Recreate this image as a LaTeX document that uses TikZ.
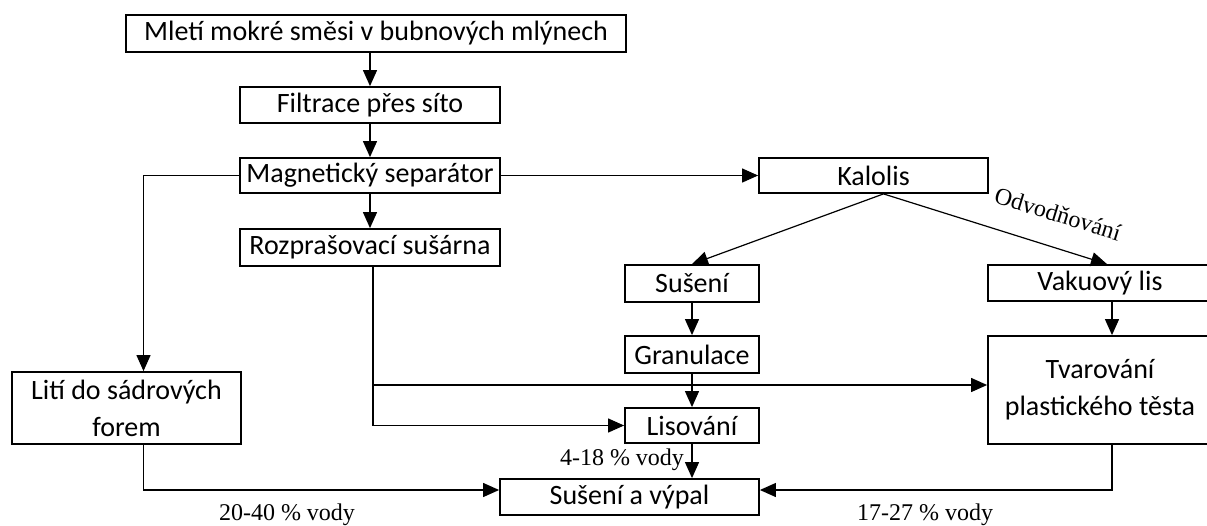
\documentclass[tikz,border=0pt]{standalone}
\usepackage{fontspec}
\setmainfont{Carlito}
\newfontfamily\timesfont{Liberation Serif}
\usepackage{tikz}
\usetikzlibrary{arrows.meta,positioning}

\begin{document}
\begin{tikzpicture}[x=1pt,y=-1pt,
    box/.style={draw,line width=1.8pt,inner sep=0pt,align=center,font=\fontsize{28}{37}\selectfont},
    conn/.style={line width=1.2pt,-{Triangle[length=16pt,width=14pt]}},
    lbl/.style={inner sep=0pt,font=\timesfont\fontsize{24}{26}\selectfont}]
    \useasboundingbox (0,0) rectangle (1207,525);
    \node[box,minimum width=500pt,minimum height=37pt] (mleti) at (376,33.5) {Mletí mokré směsi v bubnových mlýnech};
    \node[box,minimum width=260pt,minimum height=36pt] (filtr) at (370,105) {Filtrace přes síto};
    \node[box,minimum width=260pt,minimum height=35pt] (magnet) at (370,175.5) {Magnetický separátor};
    \node[box,minimum width=260pt,minimum height=37pt] (rozpr) at (370,247.5) {Rozprašovací sušárna};
    \node[box,minimum width=229pt,minimum height=35pt] (kalolis) at (873.5,175.5) {Kalolis};
    \node[box,minimum width=134pt,minimum height=37pt] (suseni) at (692,283.5) {Sušení};
    \node[box,minimum width=224pt,minimum height=36pt] (vakuum) at (1100,283) {Vakuový lis};
    \node[box,minimum width=134pt,minimum height=37pt] (granul) at (692,354.5) {Granulace};
    \node[box,minimum width=134pt,minimum height=35pt] (lisov) at (692,425.5) {Lisování};
    \node[box,minimum width=224pt,minimum height=108pt] (tvar) at (1100,390) {Tvarování\\plastického těsta};
    \node[box,minimum width=229pt,minimum height=72pt] (liti) at (126.5,408) {Lití do sádrových\\forem};
    \node[box,minimum width=259pt,minimum height=36pt] (vypal) at (629.5,497) {Sušení a výpal};
    % popisky
    \node[lbl,rotate=-17] (odv) at (1058,214) {Odvodňování};
    \node[lbl] (w1) at (287,515) {20-40 \% vody};
    \node[lbl] (w2) at (622,460) {4-18 \% vody};
    \node[lbl] (w3) at (925,515) {17-27 \% vody};
    % hlavni linka
    \draw[conn] (mleti.south -| filtr.north) -- (filtr.north);
    \draw[conn] (filtr) -- (magnet);
    \draw[conn] (magnet) -- (rozpr);
    \draw[conn] (magnet.west) -| ([xshift=17pt]liti.north);
    \draw[conn] (magnet.east) -- (kalolis.west);
    \draw[conn] ([xshift=10pt]kalolis.south) -- (suseni.north);
    \draw[conn] ([xshift=10pt]kalolis.south) -- ([xshift=7pt]vakuum.north);
    \draw[conn] (suseni) -- (granul);
    \draw[conn] (granul) -- (lisov);
    \draw[conn] ([xshift=12pt]vakuum.south) -- ([xshift=12pt]tvar.north);
    \draw[conn] ([xshift=3pt]rozpr.south) |- (lisov.west);
    \draw[conn] ([xshift=3pt]rozpr.south) |- ([yshift=5pt]tvar.west);
    \draw[conn] (lisov.south) -- (lisov.south |- vypal.north);
    \draw[conn] ([xshift=17pt]liti.south) |- ([yshift=7pt]vypal.west);
    \draw[conn] ([xshift=12pt]tvar.south) |- ([yshift=7pt]vypal.east);
\end{tikzpicture}
\end{document}
